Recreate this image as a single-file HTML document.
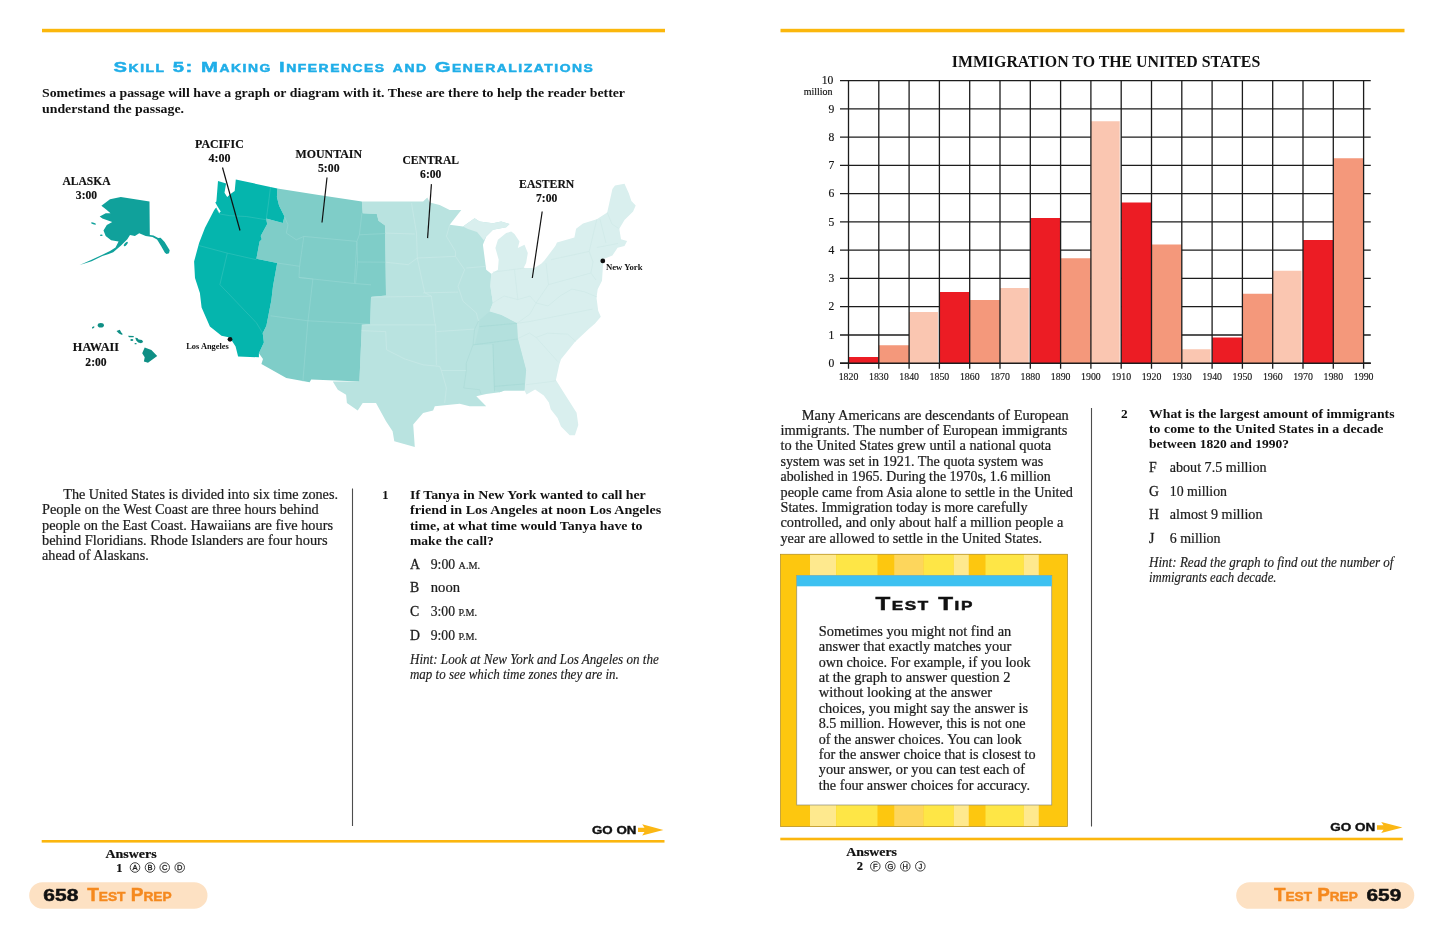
<!DOCTYPE html>
<html lang="en">
<head>
<meta charset="utf-8">
<title>Test Prep 658-659</title>
<style>
html,body{margin:0;padding:0;background:#fff;}
body{width:1445px;height:925px;overflow:hidden;}
svg{display:block;will-change:transform;}
text{font-kerning:normal;}
</style>
</head>
<body>
<svg width="1445" height="925" viewBox="0 0 1445 925">
<rect width="1445" height="925" fill="#ffffff"/>
<rect x="42.00" y="28.80" width="623.00" height="3.50" fill="#fbb70c"/>
<rect x="780.50" y="28.80" width="624.00" height="3.50" fill="#fbb70c"/>
<rect x="41.70" y="840.00" width="622.80" height="2.60" fill="#fbb60e"/>
<rect x="780.30" y="837.70" width="622.50" height="2.60" fill="#fbb60e"/>
<line x1="352.50" y1="488.50" x2="352.50" y2="826.00" stroke="#4d4d4d" stroke-width="1.1"/>
<line x1="1091.50" y1="408.00" x2="1091.50" y2="826.50" stroke="#4d4d4d" stroke-width="1.1"/>
<text x="592.00" y="833.70" font-family='"Liberation Sans", sans-serif' font-size="10.1" font-weight="bold" font-style="normal" fill="#111" text-anchor="start" textLength="44.40" lengthAdjust="spacingAndGlyphs" xml:space="preserve" stroke="#111" stroke-width="0.35">GO ON</text>
<polygon points="638.0,827.7 644.5,827.7 642.2,824.3 663.4,829.9 642.2,835.5 644.5,832.1 638.0,832.1" fill="#fbb714"/>
<text x="1330.30" y="831.30" font-family='"Liberation Sans", sans-serif' font-size="10.1" font-weight="bold" font-style="normal" fill="#111" text-anchor="start" textLength="45.00" lengthAdjust="spacingAndGlyphs" xml:space="preserve" stroke="#111" stroke-width="0.35">GO ON</text>
<polygon points="1377.0,825.3 1383.5,825.3 1381.2,821.9 1402.4,827.5 1381.2,833.1 1383.5,829.7 1377.0,829.7" fill="#fbb714"/>
<text x="105.50" y="857.50" font-family='"Liberation Serif", serif' font-size="12.5" font-weight="bold" font-style="normal" fill="#111" text-anchor="start" textLength="51.20" lengthAdjust="spacingAndGlyphs" stroke="#111" stroke-width="0.2">Answers</text>
<text x="116.30" y="871.70" font-family='"Liberation Serif", serif' font-size="12.5" font-weight="bold" font-style="normal" fill="#111" text-anchor="start" stroke="#111" stroke-width="0.2">1</text>
<circle cx="135.00" cy="867.50" r="4.8" fill="#fff" stroke="#222" stroke-width="0.85"/>
<text x="135.00" y="870.20" font-family='"Liberation Sans", sans-serif' font-size="7.5" font-weight="normal" font-style="normal" fill="#1a1a1a" text-anchor="middle" stroke="#1a1a1a" stroke-width="0.3">A</text>
<circle cx="150.00" cy="867.50" r="4.8" fill="#fff" stroke="#222" stroke-width="0.85"/>
<text x="150.00" y="870.20" font-family='"Liberation Sans", sans-serif' font-size="7.5" font-weight="normal" font-style="normal" fill="#1a1a1a" text-anchor="middle" stroke="#1a1a1a" stroke-width="0.3">B</text>
<circle cx="164.70" cy="867.50" r="4.8" fill="#fff" stroke="#222" stroke-width="0.85"/>
<text x="164.70" y="870.20" font-family='"Liberation Sans", sans-serif' font-size="7.5" font-weight="normal" font-style="normal" fill="#1a1a1a" text-anchor="middle" stroke="#1a1a1a" stroke-width="0.3">C</text>
<circle cx="179.70" cy="867.50" r="4.8" fill="#fff" stroke="#222" stroke-width="0.85"/>
<text x="179.70" y="870.20" font-family='"Liberation Sans", sans-serif' font-size="7.5" font-weight="normal" font-style="normal" fill="#1a1a1a" text-anchor="middle" stroke="#1a1a1a" stroke-width="0.3">D</text>
<text x="846.20" y="856.20" font-family='"Liberation Serif", serif' font-size="12.5" font-weight="bold" font-style="normal" fill="#111" text-anchor="start" textLength="50.80" lengthAdjust="spacingAndGlyphs" stroke="#111" stroke-width="0.2">Answers</text>
<text x="856.70" y="870.00" font-family='"Liberation Serif", serif' font-size="12.5" font-weight="bold" font-style="normal" fill="#111" text-anchor="start" stroke="#111" stroke-width="0.2">2</text>
<circle cx="875.30" cy="866.30" r="4.8" fill="#fff" stroke="#222" stroke-width="0.85"/>
<text x="875.30" y="869.00" font-family='"Liberation Sans", sans-serif' font-size="7.5" font-weight="normal" font-style="normal" fill="#1a1a1a" text-anchor="middle" stroke="#1a1a1a" stroke-width="0.3">F</text>
<circle cx="890.30" cy="866.30" r="4.8" fill="#fff" stroke="#222" stroke-width="0.85"/>
<text x="890.30" y="869.00" font-family='"Liberation Sans", sans-serif' font-size="7.5" font-weight="normal" font-style="normal" fill="#1a1a1a" text-anchor="middle" stroke="#1a1a1a" stroke-width="0.3">G</text>
<circle cx="905.30" cy="866.30" r="4.8" fill="#fff" stroke="#222" stroke-width="0.85"/>
<text x="905.30" y="869.00" font-family='"Liberation Sans", sans-serif' font-size="7.5" font-weight="normal" font-style="normal" fill="#1a1a1a" text-anchor="middle" stroke="#1a1a1a" stroke-width="0.3">H</text>
<circle cx="920.30" cy="866.30" r="4.8" fill="#fff" stroke="#222" stroke-width="0.85"/>
<text x="920.30" y="869.00" font-family='"Liberation Sans", sans-serif' font-size="7.5" font-weight="normal" font-style="normal" fill="#1a1a1a" text-anchor="middle" stroke="#1a1a1a" stroke-width="0.3">J</text>
<rect x="29.2" y="882.2" width="178.3" height="26.5" rx="13.25" ry="13.25" fill="#fde1c3"/>
<rect x="1236.2" y="882.2" width="178.1" height="26.6" rx="13.3" ry="13.3" fill="#fde1c3"/>
<text x="43.30" y="901.30" font-family='"Liberation Sans", sans-serif' font-size="16.8" font-weight="bold" font-style="normal" fill="#111" text-anchor="start" textLength="35.00" lengthAdjust="spacingAndGlyphs" stroke="#111" stroke-width="0.5">658</text>
<text x="87.20" y="901.30" font-family='"Liberation Sans", sans-serif' font-size="18" font-weight="bold" fill="#f5891f" style="font-variant:small-caps;font-variant-caps:small-caps" textLength="84.50" lengthAdjust="spacingAndGlyphs" stroke="#f5891f" stroke-width="0.45">Test Prep</text>
<text x="1274.00" y="901.30" font-family='"Liberation Sans", sans-serif' font-size="18" font-weight="bold" fill="#f5891f" style="font-variant:small-caps;font-variant-caps:small-caps" textLength="83.70" lengthAdjust="spacingAndGlyphs" stroke="#f5891f" stroke-width="0.45">Test Prep</text>
<text x="1366.50" y="901.30" font-family='"Liberation Sans", sans-serif' font-size="16.8" font-weight="bold" font-style="normal" fill="#111" text-anchor="start" textLength="34.70" lengthAdjust="spacingAndGlyphs" stroke="#111" stroke-width="0.5">659</text>
<polygon points="491.2,273.8 497.9,269.7 498.7,259.7 495.4,248.1 497.9,239.8 506.2,233.1 511.2,231.5 514.5,234.0 519.5,241.4 517.8,248.1 524.5,244.8 527.8,253.1 526.1,263.0 523.6,268.0 534.4,268.0 541.5,263.4 544.4,260.5 555.3,246.1 557.0,242.6 574.4,237.4 576.1,228.8 583.0,223.6 596.8,219.3 607.2,212.4 612.4,189.0 615.0,185.6 624.5,183.8 628.8,193.3 631.4,201.1 635.7,205.4 633.1,211.5 624.5,220.1 619.3,228.8 621.0,239.2 627.1,240.9 624.5,246.1 617.6,247.8 612.4,255.6 603.8,259.1 602.9,266.8 602.0,280.7 597.7,289.3 596.5,297.8 598.2,310.8 600.8,316.8 594.8,323.7 588.7,328.9 574.9,341.9 561.0,359.2 559.3,364.4 555.9,379.9 564.5,393.8 576.6,412.8 578.3,424.9 574.9,435.3 569.7,435.3 561.0,426.6 557.6,418.0 550.7,409.3 548.9,402.4 543.8,395.5 535.1,389.4 526.5,394.6 524.5,390.5 526.1,369.8 517.8,338.2 517.0,323.3 501.2,315.0 489.6,311.6 492.9,302.9 490.4,286.3 491.2,273.8" fill="#d9efee"/>
<polygon points="361.9,201.6 423.1,201.6 427.3,197.4 429.8,202.4 439.7,204.9 449.7,209.9 461.3,209.9 449.7,224.8 463.0,226.5 474.6,218.2 479.6,221.5 492.9,223.2 501.2,221.5 509.5,224.0 506.2,227.3 492.9,229.8 486.2,236.4 482.9,244.8 486.2,269.7 491.2,273.8 490.4,286.3 492.9,302.9 489.6,311.6 501.2,315.0 517.0,323.3 517.8,338.2 526.1,369.8 524.5,390.5 504.5,390.5 499.5,392.2 486.2,393.9 476.3,396.3 486.2,406.3 469.6,406.3 459.7,403.8 434.8,406.3 433.1,410.5 423.1,413.0 413.2,424.6 414.8,447.0 394.3,441.2 392.6,431.2 386.0,421.3 376.0,403.0 362.7,403.0 357.7,410.5 346.9,403.0 346.1,394.7 337.8,389.7 332.8,381.4 359.4,381.4 361.9,324.9 370.2,324.1 371.0,297.1 386.0,295.4 385.1,225.6 378.5,220.7 376.8,214.0 362.7,213.2 361.9,201.6" fill="#b9e3e0"/>
<polygon points="474.6,344.9 478.8,328.2 479.6,320.0 489.6,311.6 501.2,315.0 517.0,323.3 517.8,338.2 526.1,369.8 524.5,390.5 504.5,390.5 499.5,392.2 494.0,390.0 492.9,344.5" fill="#b3e0dd"/>
<polygon points="463.0,226.5 474.6,218.2 479.6,221.5 492.9,223.2 501.2,221.5 509.5,224.0 506.2,227.3 492.9,229.8 486.2,236.4 484.0,240.5 477.0,232.0 468.0,229.0" fill="#d9efee"/>
<polygon points="277.4,188.4 318.7,194.9 361.9,201.6 362.7,213.2 376.8,214.0 378.5,220.7 385.1,225.6 386.0,295.4 371.0,297.1 370.2,324.1 361.9,324.9 359.4,381.4 311.2,379.4 309.6,382.2 286.3,378.1 261.4,364.0 263.0,359.0 258.9,353.2 263.9,342.4 262.7,333.2 266.4,325.7 271.4,300.0 273.0,286.3 277.2,263.0 256.4,258.8 259.6,241.4 261.8,239.2 260.7,235.9 267.2,224.1 266.1,218.6 282.8,223.0 284.5,216.5 279.1,205.7 276.9,197.0 277.4,188.4" fill="#7fcdc8"/>
<polygon points="218.0,181.1 226.1,183.5 224.5,192.7 227.2,197.0 231.5,193.2 234.7,191.1 235.8,179.5 277.4,188.4 276.9,197.0 279.1,205.7 284.5,216.5 282.8,223.0 266.1,218.6 267.2,224.1 260.7,235.9 261.8,239.2 259.6,241.4 256.4,258.8 277.2,263.0 273.0,286.3 271.4,300.0 266.4,325.7 262.7,333.2 263.9,342.4 258.9,353.2 258.9,357.3 238.1,356.5 235.6,346.5 229.8,337.4 221.5,335.7 209.9,326.6 201.6,307.5 199.9,292.9 195.0,278.0 194.1,261.4 199.1,243.1 204.9,228.1 214.2,210.0 216.2,207.6 219.1,213.2 220.7,211.6 217.4,206.2 215.3,202.4 216.4,201.4" fill="#05b5ad"/>
<polygon points="101.4,205.7 110.0,199.2 120.8,197.0 149.5,201.4 149.8,234.9 153.5,235.5 158.2,237.9 160.6,237.7 164.6,242.0 169.7,250.3 169.0,253.3 166.6,254.0 164.9,252.8 161.2,246.3 158.0,241.0 157.0,239.6 152.5,236.9 145.7,235.9 139.2,233.2 134.9,235.9 130.0,234.9 127.3,239.2 120.8,245.7 113.2,252.2 108.0,254.2 102.4,256.0 91.6,261.2 79.7,265.1 90.5,260.2 102.4,254.7 110.0,251.0 115.5,247.5 118.6,241.4 111.1,240.3 105.7,235.9 103.5,230.5 106.8,225.1 112.2,221.9 102.4,218.6 99.7,216.5 105.7,213.2 110.5,213.2 106.8,210.0" fill="#10a19b"/>
<ellipse cx="93.5" cy="223.5" rx="2.6" ry="0.9" fill="#10a19b" transform="rotate(18 93.5 223.5)"/>
<ellipse cx="101.3" cy="235.2" rx="1.4" ry="0.8" fill="#10a19b"/>
<ellipse cx="125.8" cy="244" rx="2.8" ry="1.2" fill="#10a19b" transform="rotate(-48 125.8 244)"/>
<ellipse cx="93.2" cy="327.4" rx="1.5" ry="0.7" fill="#0f8f85" transform="rotate(-40 93.2 327.4)"/>
<ellipse cx="100.8" cy="325.3" rx="3.1" ry="2.3" fill="#0f8f85"/>
<polygon points="116.5,331.0 119.8,329.8 121.3,332.5 122.9,334.3 121.5,334.8 119.0,333.6" fill="#0f8f85"/>
<polygon points="128.0,335.8 133.8,336.0 133.6,337.2 129.0,337.2" fill="#0f8f85"/>
<ellipse cx="131.8" cy="339.9" rx="1.5" ry="1" fill="#0f8f85"/>
<polygon points="135.2,337.8 137.4,338.0 138.6,339.6 142.0,340.0 143.2,342.0 141.0,343.2 138.2,342.5 136.2,340.6" fill="#0f8f85"/>
<ellipse cx="135.6" cy="343.7" rx="1.1" ry="0.6" fill="#0f8f85"/>
<polygon points="144.7,347.4 151.4,349.9 157.2,356.1 148.0,362.7 143.9,361.5 144.7,357.3 142.2,353.2" fill="#0f8f85"/>
<polyline points="215.7,208.2 219.9,214.0 229.8,215.7 246.4,216.5 266.4,219.8" fill="none" stroke="#3cc4bd" stroke-width="0.55" stroke-linejoin="round"/>
<polyline points="270.5,187.0 268.5,203.0 266.4,218.2" fill="none" stroke="#3cc4bd" stroke-width="0.55" stroke-linejoin="round"/>
<polyline points="199.1,245.6 227.3,253.1 256.4,259.7" fill="none" stroke="#3cc4bd" stroke-width="0.55" stroke-linejoin="round"/>
<polyline points="227.3,253.1 219.9,284.6 256.4,322.8 262.7,333.2" fill="none" stroke="#3cc4bd" stroke-width="0.55" stroke-linejoin="round"/>
<polyline points="284.7,217.3 288.0,224.8 286.3,233.1 296.3,239.8 303.8,236.4" fill="none" stroke="#9bd8d4" stroke-width="0.55" stroke-linejoin="round"/>
<polyline points="303.8,236.4 299.6,266.3" fill="none" stroke="#9bd8d4" stroke-width="0.55" stroke-linejoin="round"/>
<polyline points="277.2,263.0 299.6,266.3" fill="none" stroke="#9bd8d4" stroke-width="0.55" stroke-linejoin="round"/>
<polyline points="303.8,236.4 356.9,241.4 354.4,283.5 299.0,277.5" fill="none" stroke="#9bd8d4" stroke-width="0.55" stroke-linejoin="round"/>
<polyline points="299.6,266.3 299.0,277.5 312.9,279.0 308.0,320.8" fill="none" stroke="#9bd8d4" stroke-width="0.55" stroke-linejoin="round"/>
<polyline points="270.5,315.8 307.9,320.8 370.2,324.1" fill="none" stroke="#9bd8d4" stroke-width="0.55" stroke-linejoin="round"/>
<polyline points="307.9,320.8 302.9,381.4" fill="none" stroke="#9bd8d4" stroke-width="0.55" stroke-linejoin="round"/>
<polyline points="354.4,283.5 371.0,284.8" fill="none" stroke="#9bd8d4" stroke-width="0.55" stroke-linejoin="round"/>
<polyline points="361.9,213.2 359.4,234.8 356.9,241.4" fill="none" stroke="#9bd8d4" stroke-width="0.55" stroke-linejoin="round"/>
<polyline points="359.4,234.8 385.5,233.5" fill="none" stroke="#9bd8d4" stroke-width="0.55" stroke-linejoin="round"/>
<polyline points="357.6,262.0 385.7,262.2" fill="none" stroke="#9bd8d4" stroke-width="0.55" stroke-linejoin="round"/>
<polyline points="356.9,241.4 357.6,262.0 355.6,283.5" fill="none" stroke="#9bd8d4" stroke-width="0.55" stroke-linejoin="round"/>
<polyline points="385.7,233.1 414.8,234.0" fill="none" stroke="#cdebe9" stroke-width="0.55" stroke-linejoin="round"/>
<polyline points="411.5,203.2 416.5,233.1 417.3,258.0" fill="none" stroke="#cdebe9" stroke-width="0.55" stroke-linejoin="round"/>
<polyline points="385.7,262.2 408.2,264.7 417.3,258.0" fill="none" stroke="#cdebe9" stroke-width="0.55" stroke-linejoin="round"/>
<polyline points="417.3,258.0 455.5,256.4" fill="none" stroke="#cdebe9" stroke-width="0.55" stroke-linejoin="round"/>
<polyline points="449.7,224.8 446.4,236.4 455.5,251.4 455.5,256.4" fill="none" stroke="#cdebe9" stroke-width="0.55" stroke-linejoin="round"/>
<polyline points="417.3,258.0 421.5,278.0 424.8,292.9" fill="none" stroke="#cdebe9" stroke-width="0.55" stroke-linejoin="round"/>
<polyline points="423.1,292.9 458.0,292.1" fill="none" stroke="#cdebe9" stroke-width="0.55" stroke-linejoin="round"/>
<polyline points="466.3,268.0 486.2,266.3" fill="none" stroke="#cdebe9" stroke-width="0.55" stroke-linejoin="round"/>
<polyline points="455.5,256.4 464.6,269.7 458.0,286.3 463.0,301.2 476.3,312.9 478.5,321.0" fill="none" stroke="#cdebe9" stroke-width="0.55" stroke-linejoin="round"/>
<polyline points="371.6,297.1 431.4,296.2" fill="none" stroke="#cdebe9" stroke-width="0.55" stroke-linejoin="round"/>
<polyline points="424.8,292.9 431.4,296.2 434.8,322.8 435.6,324.9" fill="none" stroke="#cdebe9" stroke-width="0.55" stroke-linejoin="round"/>
<polyline points="361.7,324.9 435.6,324.9" fill="none" stroke="#cdebe9" stroke-width="0.55" stroke-linejoin="round"/>
<polyline points="435.6,324.9 436.4,364.8" fill="none" stroke="#cdebe9" stroke-width="0.55" stroke-linejoin="round"/>
<polyline points="361.7,330.7 385.7,331.6 386.6,349.8 404.9,359.0 423.1,364.8 439.7,366.4" fill="none" stroke="#cdebe9" stroke-width="0.55" stroke-linejoin="round"/>
<polyline points="441.4,370.6 466.3,370.6" fill="none" stroke="#cdebe9" stroke-width="0.55" stroke-linejoin="round"/>
<polyline points="439.7,366.4 441.4,370.6 446.4,388.0 444.7,403.0" fill="none" stroke="#cdebe9" stroke-width="0.55" stroke-linejoin="round"/>
<polyline points="436.4,331.6 474.6,329.1" fill="none" stroke="#cdebe9" stroke-width="0.55" stroke-linejoin="round"/>
<polyline points="478.5,321.0 474.6,329.1 473.0,344.9 466.3,363.1 466.3,370.6 463.8,388.0 479.6,389.7 481.0,394.0" fill="none" stroke="#a8d9d5" stroke-width="0.55" stroke-linejoin="round"/>
<polyline points="492.9,344.0 494.5,391.4" fill="none" stroke="#9fd5d1" stroke-width="0.55" stroke-linejoin="round"/>
<polyline points="479.6,326.6 517.0,323.3" fill="none" stroke="#a2d7d3" stroke-width="0.55" stroke-linejoin="round"/>
<polyline points="473.0,344.9 517.8,339.0" fill="none" stroke="#a2d7d3" stroke-width="0.55" stroke-linejoin="round"/>
<polyline points="494.5,386.4 524.5,383.9" fill="none" stroke="#a2d7d3" stroke-width="0.55" stroke-linejoin="round"/>
<polyline points="514.5,269.7 517.8,299.6" fill="none" stroke="#cbe8e6" stroke-width="0.55" stroke-linejoin="round"/>
<polyline points="492.9,272.2 524.5,268.0" fill="none" stroke="#cbe8e6" stroke-width="0.55" stroke-linejoin="round"/>
<polyline points="546.0,263.0 548.5,284.6" fill="none" stroke="#cbe8e6" stroke-width="0.55" stroke-linejoin="round"/>
<polyline points="551.0,259.7 589.2,251.4" fill="none" stroke="#cbe8e6" stroke-width="0.55" stroke-linejoin="round"/>
<polyline points="548.5,284.6 590.9,273.0" fill="none" stroke="#cbe8e6" stroke-width="0.55" stroke-linejoin="round"/>
<polyline points="526.1,384.7 552.7,381.4 556.0,380.6" fill="none" stroke="#cbe8e6" stroke-width="0.55" stroke-linejoin="round"/>
<polyline points="536.1,337.4 557.7,361.5" fill="none" stroke="#cbe8e6" stroke-width="0.55" stroke-linejoin="round"/>
<polyline points="536.1,337.4 547.7,333.2 567.6,334.1 575.9,341.5" fill="none" stroke="#cbe8e6" stroke-width="0.55" stroke-linejoin="round"/>
<polyline points="517.8,338.5 529.4,333.0 536.1,337.4" fill="none" stroke="#cbe8e6" stroke-width="0.55" stroke-linejoin="round"/>
<polyline points="517.0,323.3 529.4,321.6 592.6,309.1" fill="none" stroke="#cbe8e6" stroke-width="0.55" stroke-linejoin="round"/>
<polyline points="492.9,302.9 504.0,296.0 517.8,299.6 530.0,296.0 536.0,303.0 548.5,284.6" fill="none" stroke="#cbe8e6" stroke-width="0.55" stroke-linejoin="round"/>
<polyline points="517.0,323.3 530.0,314.0 536.0,303.0" fill="none" stroke="#cbe8e6" stroke-width="0.55" stroke-linejoin="round"/>
<polyline points="536.0,303.0 548.0,306.0 560.0,296.0 572.0,289.0 585.0,292.0 597.0,297.0" fill="none" stroke="#cbe8e6" stroke-width="0.55" stroke-linejoin="round"/>
<polyline points="589.2,251.4 593.0,262.0 590.9,273.0 596.0,280.0" fill="none" stroke="#cbe8e6" stroke-width="0.55" stroke-linejoin="round"/>
<polyline points="589.2,251.4 596.8,219.3" fill="none" stroke="#cbe8e6" stroke-width="0.55" stroke-linejoin="round"/>
<polyline points="596.8,247.5 618.0,243.5" fill="none" stroke="#cbe8e6" stroke-width="0.55" stroke-linejoin="round"/>
<polyline points="600.0,219.0 606.0,243.0" fill="none" stroke="#cbe8e6" stroke-width="0.55" stroke-linejoin="round"/>
<polyline points="607.2,212.4 612.0,224.0 619.3,228.8" fill="none" stroke="#cbe8e6" stroke-width="0.55" stroke-linejoin="round"/>
<line x1="222.50" y1="167.50" x2="240.00" y2="230.50" stroke="#111" stroke-width="1.2"/>
<line x1="327.00" y1="177.50" x2="322.00" y2="222.50" stroke="#111" stroke-width="1.2"/>
<line x1="431.40" y1="184.10" x2="427.60" y2="238.10" stroke="#111" stroke-width="1.2"/>
<line x1="542.20" y1="211.50" x2="532.30" y2="278.00" stroke="#111" stroke-width="1.2"/>
<text x="195.03" y="147.50" font-family='"Liberation Serif", serif' font-size="12" font-weight="bold" font-style="normal" fill="#111" text-anchor="start" textLength="48.75" lengthAdjust="spacingAndGlyphs" stroke="#111" stroke-width="0.15">PACIFIC</text>
<text x="208.40" y="161.75" font-family='"Liberation Serif", serif' font-size="12" font-weight="bold" font-style="normal" fill="#111" text-anchor="start" textLength="22.00" lengthAdjust="spacingAndGlyphs" stroke="#111" stroke-width="0.15">4:00</text>
<text x="295.50" y="158.00" font-family='"Liberation Serif", serif' font-size="12" font-weight="bold" font-style="normal" fill="#111" text-anchor="start" textLength="66.50" lengthAdjust="spacingAndGlyphs" stroke="#111" stroke-width="0.15">MOUNTAIN</text>
<text x="318.00" y="172.00" font-family='"Liberation Serif", serif' font-size="12" font-weight="bold" font-style="normal" fill="#111" text-anchor="start" textLength="21.50" lengthAdjust="spacingAndGlyphs" stroke="#111" stroke-width="0.15">5:00</text>
<text x="402.50" y="164.00" font-family='"Liberation Serif", serif' font-size="12" font-weight="bold" font-style="normal" fill="#111" text-anchor="start" textLength="56.50" lengthAdjust="spacingAndGlyphs" stroke="#111" stroke-width="0.15">CENTRAL</text>
<text x="420.10" y="177.50" font-family='"Liberation Serif", serif' font-size="12" font-weight="bold" font-style="normal" fill="#111" text-anchor="start" textLength="21.30" lengthAdjust="spacingAndGlyphs" stroke="#111" stroke-width="0.15">6:00</text>
<text x="519.10" y="188.30" font-family='"Liberation Serif", serif' font-size="12" font-weight="bold" font-style="normal" fill="#111" text-anchor="start" textLength="55.20" lengthAdjust="spacingAndGlyphs" stroke="#111" stroke-width="0.15">EASTERN</text>
<text x="536.05" y="202.00" font-family='"Liberation Serif", serif' font-size="12" font-weight="bold" font-style="normal" fill="#111" text-anchor="start" textLength="21.30" lengthAdjust="spacingAndGlyphs" stroke="#111" stroke-width="0.15">7:00</text>
<text x="62.50" y="185.00" font-family='"Liberation Serif", serif' font-size="12" font-weight="bold" font-style="normal" fill="#111" text-anchor="start" textLength="48.00" lengthAdjust="spacingAndGlyphs" stroke="#111" stroke-width="0.15">ALASKA</text>
<text x="75.85" y="199.25" font-family='"Liberation Serif", serif' font-size="12" font-weight="bold" font-style="normal" fill="#111" text-anchor="start" textLength="21.30" lengthAdjust="spacingAndGlyphs" stroke="#111" stroke-width="0.15">3:00</text>
<text x="72.88" y="351.25" font-family='"Liberation Serif", serif' font-size="12" font-weight="bold" font-style="normal" fill="#111" text-anchor="start" textLength="46.25" lengthAdjust="spacingAndGlyphs" stroke="#111" stroke-width="0.15">HAWAII</text>
<text x="85.35" y="365.50" font-family='"Liberation Serif", serif' font-size="12" font-weight="bold" font-style="normal" fill="#111" text-anchor="start" textLength="21.30" lengthAdjust="spacingAndGlyphs" stroke="#111" stroke-width="0.15">2:00</text>
<circle cx="230" cy="339.3" r="2.4" fill="#111"/>
<text x="186.25" y="348.75" font-family='"Liberation Serif", serif' font-size="8.8" font-weight="bold" font-style="normal" fill="#111" text-anchor="start" textLength="42.50" lengthAdjust="spacingAndGlyphs">Los Angeles</text>
<circle cx="602.8" cy="260.9" r="2.4" fill="#111"/>
<text x="606.00" y="269.50" font-family='"Liberation Serif", serif' font-size="8.8" font-weight="bold" font-style="normal" fill="#111" text-anchor="start" textLength="36.50" lengthAdjust="spacingAndGlyphs">New York</text>
<text x="951.75" y="67.00" font-family='"Liberation Serif", serif' font-size="16.3" font-weight="bold" font-style="normal" fill="#111" text-anchor="start" textLength="308.50" lengthAdjust="spacingAndGlyphs">IMMIGRATION TO THE UNITED STATES</text>
<line x1="840.00" y1="363.25" x2="1370.75" y2="363.25" stroke="#1c1c1c" stroke-width="1.3"/>
<line x1="840.00" y1="334.98" x2="1370.75" y2="334.98" stroke="#1c1c1c" stroke-width="1.3"/>
<line x1="840.00" y1="306.71" x2="1370.75" y2="306.71" stroke="#1c1c1c" stroke-width="1.3"/>
<line x1="840.00" y1="278.44" x2="1370.75" y2="278.44" stroke="#1c1c1c" stroke-width="1.3"/>
<line x1="840.00" y1="250.17" x2="1370.75" y2="250.17" stroke="#1c1c1c" stroke-width="1.3"/>
<line x1="840.00" y1="221.90" x2="1370.75" y2="221.90" stroke="#1c1c1c" stroke-width="1.3"/>
<line x1="840.00" y1="193.63" x2="1370.75" y2="193.63" stroke="#1c1c1c" stroke-width="1.3"/>
<line x1="840.00" y1="165.36" x2="1370.75" y2="165.36" stroke="#1c1c1c" stroke-width="1.3"/>
<line x1="840.00" y1="137.09" x2="1370.75" y2="137.09" stroke="#1c1c1c" stroke-width="1.3"/>
<line x1="840.00" y1="108.82" x2="1370.75" y2="108.82" stroke="#1c1c1c" stroke-width="1.3"/>
<line x1="840.00" y1="80.55" x2="1370.75" y2="80.55" stroke="#1c1c1c" stroke-width="1.3"/>
<rect x="848.50" y="357.00" width="30.30" height="6.25" fill="#ec1c24"/>
<rect x="878.80" y="345.25" width="30.30" height="18.00" fill="#f4987b"/>
<rect x="909.10" y="311.60" width="30.30" height="51.65" fill="#ffffff"/>
<rect x="909.10" y="312.00" width="28.80" height="51.25" fill="#fac6b1"/>
<rect x="939.40" y="292.00" width="30.30" height="71.25" fill="#ec1c24"/>
<rect x="969.70" y="300.00" width="30.30" height="63.25" fill="#f4987b"/>
<rect x="1000.00" y="287.60" width="30.30" height="75.65" fill="#ffffff"/>
<rect x="1000.00" y="288.00" width="28.80" height="75.25" fill="#fac6b1"/>
<rect x="1030.30" y="218.00" width="30.30" height="145.25" fill="#ec1c24"/>
<rect x="1060.60" y="258.25" width="30.30" height="105.00" fill="#f4987b"/>
<rect x="1090.90" y="120.85" width="30.30" height="242.40" fill="#ffffff"/>
<rect x="1090.90" y="121.25" width="28.80" height="242.00" fill="#fac6b1"/>
<rect x="1121.20" y="202.50" width="30.30" height="160.75" fill="#ec1c24"/>
<rect x="1151.50" y="244.50" width="30.30" height="118.75" fill="#f4987b"/>
<rect x="1181.80" y="348.85" width="30.30" height="14.40" fill="#ffffff"/>
<rect x="1181.80" y="349.25" width="28.80" height="14.00" fill="#fac6b1"/>
<rect x="1212.10" y="337.50" width="30.30" height="25.75" fill="#ec1c24"/>
<rect x="1242.40" y="293.75" width="30.30" height="69.50" fill="#f4987b"/>
<rect x="1272.70" y="270.35" width="30.30" height="92.90" fill="#ffffff"/>
<rect x="1272.70" y="270.75" width="28.80" height="92.50" fill="#fac6b1"/>
<rect x="1303.00" y="240.00" width="30.30" height="123.25" fill="#ec1c24"/>
<rect x="1333.30" y="158.25" width="30.30" height="205.00" fill="#f4987b"/>
<line x1="848.50" y1="80.55" x2="848.50" y2="368.75" stroke="#1c1c1c" stroke-width="1.3"/>
<line x1="878.80" y1="80.55" x2="878.80" y2="368.75" stroke="#1c1c1c" stroke-width="1.3"/>
<line x1="909.10" y1="80.55" x2="909.10" y2="368.75" stroke="#1c1c1c" stroke-width="1.3"/>
<line x1="939.40" y1="80.55" x2="939.40" y2="368.75" stroke="#1c1c1c" stroke-width="1.3"/>
<line x1="969.70" y1="80.55" x2="969.70" y2="368.75" stroke="#1c1c1c" stroke-width="1.3"/>
<line x1="1000.00" y1="80.55" x2="1000.00" y2="368.75" stroke="#1c1c1c" stroke-width="1.3"/>
<line x1="1030.30" y1="80.55" x2="1030.30" y2="368.75" stroke="#1c1c1c" stroke-width="1.3"/>
<line x1="1060.60" y1="80.55" x2="1060.60" y2="368.75" stroke="#1c1c1c" stroke-width="1.3"/>
<line x1="1090.90" y1="80.55" x2="1090.90" y2="368.75" stroke="#1c1c1c" stroke-width="1.3"/>
<line x1="1121.20" y1="80.55" x2="1121.20" y2="368.75" stroke="#1c1c1c" stroke-width="1.3"/>
<line x1="1151.50" y1="80.55" x2="1151.50" y2="368.75" stroke="#1c1c1c" stroke-width="1.3"/>
<line x1="1181.80" y1="80.55" x2="1181.80" y2="368.75" stroke="#1c1c1c" stroke-width="1.3"/>
<line x1="1212.10" y1="80.55" x2="1212.10" y2="368.75" stroke="#1c1c1c" stroke-width="1.3"/>
<line x1="1242.40" y1="80.55" x2="1242.40" y2="368.75" stroke="#1c1c1c" stroke-width="1.3"/>
<line x1="1272.70" y1="80.55" x2="1272.70" y2="368.75" stroke="#1c1c1c" stroke-width="1.3"/>
<line x1="1303.00" y1="80.55" x2="1303.00" y2="368.75" stroke="#1c1c1c" stroke-width="1.3"/>
<line x1="1333.30" y1="80.55" x2="1333.30" y2="368.75" stroke="#1c1c1c" stroke-width="1.3"/>
<line x1="1363.60" y1="80.55" x2="1363.60" y2="368.75" stroke="#1c1c1c" stroke-width="1.3"/>
<line x1="840.00" y1="363.25" x2="1370.75" y2="363.25" stroke="#1c1c1c" stroke-width="1.3"/>
<text x="834.30" y="366.95" font-family='"Liberation Serif", serif' font-size="11.6" font-weight="normal" font-style="normal" fill="#111" text-anchor="end" stroke="#111" stroke-width="0.15">0</text>
<text x="834.30" y="338.68" font-family='"Liberation Serif", serif' font-size="11.6" font-weight="normal" font-style="normal" fill="#111" text-anchor="end" stroke="#111" stroke-width="0.15">1</text>
<text x="834.30" y="310.41" font-family='"Liberation Serif", serif' font-size="11.6" font-weight="normal" font-style="normal" fill="#111" text-anchor="end" stroke="#111" stroke-width="0.15">2</text>
<text x="834.30" y="282.14" font-family='"Liberation Serif", serif' font-size="11.6" font-weight="normal" font-style="normal" fill="#111" text-anchor="end" stroke="#111" stroke-width="0.15">3</text>
<text x="834.30" y="253.87" font-family='"Liberation Serif", serif' font-size="11.6" font-weight="normal" font-style="normal" fill="#111" text-anchor="end" stroke="#111" stroke-width="0.15">4</text>
<text x="834.30" y="225.60" font-family='"Liberation Serif", serif' font-size="11.6" font-weight="normal" font-style="normal" fill="#111" text-anchor="end" stroke="#111" stroke-width="0.15">5</text>
<text x="834.30" y="197.33" font-family='"Liberation Serif", serif' font-size="11.6" font-weight="normal" font-style="normal" fill="#111" text-anchor="end" stroke="#111" stroke-width="0.15">6</text>
<text x="834.30" y="169.06" font-family='"Liberation Serif", serif' font-size="11.6" font-weight="normal" font-style="normal" fill="#111" text-anchor="end" stroke="#111" stroke-width="0.15">7</text>
<text x="834.30" y="140.79" font-family='"Liberation Serif", serif' font-size="11.6" font-weight="normal" font-style="normal" fill="#111" text-anchor="end" stroke="#111" stroke-width="0.15">8</text>
<text x="834.30" y="112.52" font-family='"Liberation Serif", serif' font-size="11.6" font-weight="normal" font-style="normal" fill="#111" text-anchor="end" stroke="#111" stroke-width="0.15">9</text>
<text x="833.40" y="83.90" font-family='"Liberation Serif", serif' font-size="11.6" font-weight="normal" font-style="normal" fill="#111" text-anchor="end" stroke="#111" stroke-width="0.15">10</text>
<text x="803.75" y="95.00" font-family='"Liberation Serif", serif' font-size="9.6" font-weight="normal" font-style="normal" fill="#111" text-anchor="start" textLength="28.75" lengthAdjust="spacingAndGlyphs" stroke="#111" stroke-width="0.15">million</text>
<text x="838.70" y="380.00" font-family='"Liberation Serif", serif' font-size="10.2" font-weight="normal" font-style="normal" fill="#111" text-anchor="start" textLength="19.70" lengthAdjust="spacingAndGlyphs" stroke="#111" stroke-width="0.12">1820</text>
<text x="869.00" y="380.00" font-family='"Liberation Serif", serif' font-size="10.2" font-weight="normal" font-style="normal" fill="#111" text-anchor="start" textLength="19.70" lengthAdjust="spacingAndGlyphs" stroke="#111" stroke-width="0.12">1830</text>
<text x="899.30" y="380.00" font-family='"Liberation Serif", serif' font-size="10.2" font-weight="normal" font-style="normal" fill="#111" text-anchor="start" textLength="19.70" lengthAdjust="spacingAndGlyphs" stroke="#111" stroke-width="0.12">1840</text>
<text x="929.60" y="380.00" font-family='"Liberation Serif", serif' font-size="10.2" font-weight="normal" font-style="normal" fill="#111" text-anchor="start" textLength="19.70" lengthAdjust="spacingAndGlyphs" stroke="#111" stroke-width="0.12">1850</text>
<text x="959.90" y="380.00" font-family='"Liberation Serif", serif' font-size="10.2" font-weight="normal" font-style="normal" fill="#111" text-anchor="start" textLength="19.70" lengthAdjust="spacingAndGlyphs" stroke="#111" stroke-width="0.12">1860</text>
<text x="990.20" y="380.00" font-family='"Liberation Serif", serif' font-size="10.2" font-weight="normal" font-style="normal" fill="#111" text-anchor="start" textLength="19.70" lengthAdjust="spacingAndGlyphs" stroke="#111" stroke-width="0.12">1870</text>
<text x="1020.50" y="380.00" font-family='"Liberation Serif", serif' font-size="10.2" font-weight="normal" font-style="normal" fill="#111" text-anchor="start" textLength="19.70" lengthAdjust="spacingAndGlyphs" stroke="#111" stroke-width="0.12">1880</text>
<text x="1050.80" y="380.00" font-family='"Liberation Serif", serif' font-size="10.2" font-weight="normal" font-style="normal" fill="#111" text-anchor="start" textLength="19.70" lengthAdjust="spacingAndGlyphs" stroke="#111" stroke-width="0.12">1890</text>
<text x="1081.10" y="380.00" font-family='"Liberation Serif", serif' font-size="10.2" font-weight="normal" font-style="normal" fill="#111" text-anchor="start" textLength="19.70" lengthAdjust="spacingAndGlyphs" stroke="#111" stroke-width="0.12">1900</text>
<text x="1111.40" y="380.00" font-family='"Liberation Serif", serif' font-size="10.2" font-weight="normal" font-style="normal" fill="#111" text-anchor="start" textLength="19.70" lengthAdjust="spacingAndGlyphs" stroke="#111" stroke-width="0.12">1910</text>
<text x="1141.70" y="380.00" font-family='"Liberation Serif", serif' font-size="10.2" font-weight="normal" font-style="normal" fill="#111" text-anchor="start" textLength="19.70" lengthAdjust="spacingAndGlyphs" stroke="#111" stroke-width="0.12">1920</text>
<text x="1172.00" y="380.00" font-family='"Liberation Serif", serif' font-size="10.2" font-weight="normal" font-style="normal" fill="#111" text-anchor="start" textLength="19.70" lengthAdjust="spacingAndGlyphs" stroke="#111" stroke-width="0.12">1930</text>
<text x="1202.30" y="380.00" font-family='"Liberation Serif", serif' font-size="10.2" font-weight="normal" font-style="normal" fill="#111" text-anchor="start" textLength="19.70" lengthAdjust="spacingAndGlyphs" stroke="#111" stroke-width="0.12">1940</text>
<text x="1232.60" y="380.00" font-family='"Liberation Serif", serif' font-size="10.2" font-weight="normal" font-style="normal" fill="#111" text-anchor="start" textLength="19.70" lengthAdjust="spacingAndGlyphs" stroke="#111" stroke-width="0.12">1950</text>
<text x="1262.90" y="380.00" font-family='"Liberation Serif", serif' font-size="10.2" font-weight="normal" font-style="normal" fill="#111" text-anchor="start" textLength="19.70" lengthAdjust="spacingAndGlyphs" stroke="#111" stroke-width="0.12">1960</text>
<text x="1293.20" y="380.00" font-family='"Liberation Serif", serif' font-size="10.2" font-weight="normal" font-style="normal" fill="#111" text-anchor="start" textLength="19.70" lengthAdjust="spacingAndGlyphs" stroke="#111" stroke-width="0.12">1970</text>
<text x="1323.50" y="380.00" font-family='"Liberation Serif", serif' font-size="10.2" font-weight="normal" font-style="normal" fill="#111" text-anchor="start" textLength="19.70" lengthAdjust="spacingAndGlyphs" stroke="#111" stroke-width="0.12">1980</text>
<text x="1353.80" y="380.00" font-family='"Liberation Serif", serif' font-size="10.2" font-weight="normal" font-style="normal" fill="#111" text-anchor="start" textLength="19.70" lengthAdjust="spacingAndGlyphs" stroke="#111" stroke-width="0.12">1990</text>
<text x="113.50" y="72.20" font-family='"Liberation Sans", sans-serif' font-size="14.6" font-weight="bold" fill="#20aee8" style="font-variant:small-caps;font-variant-caps:small-caps" textLength="480.90" lengthAdjust="spacingAndGlyphs" letter-spacing="1.1" stroke="#20aee8" stroke-width="0.45">Skill 5: Making Inferences and Generalizations</text>
<text x="42.00" y="96.50" font-family='"Liberation Serif", serif' font-size="13.3" font-weight="bold" font-style="normal" fill="#111" text-anchor="start" textLength="583.00" lengthAdjust="spacingAndGlyphs">Sometimes a passage will have a graph or diagram with it. These are there to help the reader better</text>
<text x="42.00" y="112.75" font-family='"Liberation Serif", serif' font-size="13.3" font-weight="bold" font-style="normal" fill="#111" text-anchor="start" textLength="142.00" lengthAdjust="spacingAndGlyphs">understand the passage.</text>
<text x="63.25" y="498.75" font-family='"Liberation Serif", serif' font-size="13.75" font-weight="normal" font-style="normal" fill="#1c1c1c" text-anchor="start" textLength="274.75" lengthAdjust="spacingAndGlyphs" stroke="#1c1c1c" stroke-width="0.22">The United States is divided into six time zones.</text>
<text x="42.00" y="514.00" font-family='"Liberation Serif", serif' font-size="13.75" font-weight="normal" font-style="normal" fill="#1c1c1c" text-anchor="start" textLength="276.75" lengthAdjust="spacingAndGlyphs" stroke="#1c1c1c" stroke-width="0.22">People on the West Coast are three hours behind</text>
<text x="42.00" y="529.50" font-family='"Liberation Serif", serif' font-size="13.75" font-weight="normal" font-style="normal" fill="#1c1c1c" text-anchor="start" textLength="291.00" lengthAdjust="spacingAndGlyphs" stroke="#1c1c1c" stroke-width="0.22">people on the East Coast. Hawaiians are five hours</text>
<text x="42.00" y="545.00" font-family='"Liberation Serif", serif' font-size="13.75" font-weight="normal" font-style="normal" fill="#1c1c1c" text-anchor="start" textLength="285.50" lengthAdjust="spacingAndGlyphs" stroke="#1c1c1c" stroke-width="0.22">behind Floridians. Rhode Islanders are four hours</text>
<text x="42.00" y="560.00" font-family='"Liberation Serif", serif' font-size="13.75" font-weight="normal" font-style="normal" fill="#1c1c1c" text-anchor="start" textLength="106.75" lengthAdjust="spacingAndGlyphs" stroke="#1c1c1c" stroke-width="0.22">ahead of Alaskans.</text>
<text x="382.00" y="498.75" font-family='"Liberation Serif", serif' font-size="13.3" font-weight="bold" font-style="normal" fill="#111" text-anchor="start">1</text>
<text x="410.00" y="498.75" font-family='"Liberation Serif", serif' font-size="13.3" font-weight="bold" font-style="normal" fill="#111" text-anchor="start" textLength="235.75" lengthAdjust="spacingAndGlyphs">If Tanya in New York wanted to call her</text>
<text x="410.00" y="514.00" font-family='"Liberation Serif", serif' font-size="13.3" font-weight="bold" font-style="normal" fill="#111" text-anchor="start" textLength="251.25" lengthAdjust="spacingAndGlyphs">friend in Los Angeles at noon Los Angeles</text>
<text x="410.00" y="529.50" font-family='"Liberation Serif", serif' font-size="13.3" font-weight="bold" font-style="normal" fill="#111" text-anchor="start" textLength="232.50" lengthAdjust="spacingAndGlyphs">time, at what time would Tanya have to</text>
<text x="410.00" y="545.00" font-family='"Liberation Serif", serif' font-size="13.3" font-weight="bold" font-style="normal" fill="#111" text-anchor="start" textLength="83.75" lengthAdjust="spacingAndGlyphs">make the call?</text>
<text x="410.00" y="568.75" font-family='"Liberation Serif", serif' font-size="13.75" font-weight="normal" font-style="normal" fill="#1c1c1c" text-anchor="start" stroke="#1c1c1c" stroke-width="0.3">A</text>
<text x="430.75" y="568.75" font-family='"Liberation Serif", serif' fill="#1c1c1c" xml:space="preserve" textLength="49.25" lengthAdjust="spacingAndGlyphs" stroke="#1c1c1c" stroke-width="0.22"><tspan font-size="13.75">9:00 </tspan><tspan font-size="10.18">A.M.</tspan></text>
<text x="410.00" y="592.00" font-family='"Liberation Serif", serif' font-size="13.75" font-weight="normal" font-style="normal" fill="#1c1c1c" text-anchor="start" stroke="#1c1c1c" stroke-width="0.3">B</text>
<text x="430.75" y="592.00" font-family='"Liberation Serif", serif' font-size="13.75" font-weight="normal" font-style="normal" fill="#1c1c1c" text-anchor="start" textLength="29.25" lengthAdjust="spacingAndGlyphs" stroke="#1c1c1c" stroke-width="0.22">noon</text>
<text x="410.00" y="615.75" font-family='"Liberation Serif", serif' font-size="13.75" font-weight="normal" font-style="normal" fill="#1c1c1c" text-anchor="start" stroke="#1c1c1c" stroke-width="0.3">C</text>
<text x="430.75" y="615.75" font-family='"Liberation Serif", serif' fill="#1c1c1c" xml:space="preserve" textLength="46.25" lengthAdjust="spacingAndGlyphs" stroke="#1c1c1c" stroke-width="0.22"><tspan font-size="13.75">3:00 </tspan><tspan font-size="10.18">P.M.</tspan></text>
<text x="410.00" y="639.50" font-family='"Liberation Serif", serif' font-size="13.75" font-weight="normal" font-style="normal" fill="#1c1c1c" text-anchor="start" stroke="#1c1c1c" stroke-width="0.3">D</text>
<text x="430.75" y="639.50" font-family='"Liberation Serif", serif' fill="#1c1c1c" xml:space="preserve" textLength="46.25" lengthAdjust="spacingAndGlyphs" stroke="#1c1c1c" stroke-width="0.22"><tspan font-size="13.75">9:00 </tspan><tspan font-size="10.18">P.M.</tspan></text>
<text x="410.00" y="663.75" font-family='"Liberation Serif", serif' font-size="13.75" font-weight="normal" font-style="italic" fill="#1c1c1c" text-anchor="start" textLength="248.75" lengthAdjust="spacingAndGlyphs" stroke="#1c1c1c" stroke-width="0.15">Hint: Look at New York and Los Angeles on the</text>
<text x="410.00" y="678.75" font-family='"Liberation Serif", serif' font-size="13.75" font-weight="normal" font-style="italic" fill="#1c1c1c" text-anchor="start" textLength="208.75" lengthAdjust="spacingAndGlyphs" stroke="#1c1c1c" stroke-width="0.15">map to see which time zones they are in.</text>
<text x="801.75" y="419.50" font-family='"Liberation Serif", serif' font-size="13.75" font-weight="normal" font-style="normal" fill="#1c1c1c" text-anchor="start" textLength="267.00" lengthAdjust="spacingAndGlyphs" stroke="#1c1c1c" stroke-width="0.22">Many Americans are descendants of European</text>
<text x="780.50" y="435.00" font-family='"Liberation Serif", serif' font-size="13.75" font-weight="normal" font-style="normal" fill="#1c1c1c" text-anchor="start" textLength="287.00" lengthAdjust="spacingAndGlyphs" stroke="#1c1c1c" stroke-width="0.22">immigrants. The number of European immigrants</text>
<text x="780.50" y="450.25" font-family='"Liberation Serif", serif' font-size="13.75" font-weight="normal" font-style="normal" fill="#1c1c1c" text-anchor="start" textLength="270.75" lengthAdjust="spacingAndGlyphs" stroke="#1c1c1c" stroke-width="0.22">to the United States grew until a national quota</text>
<text x="780.50" y="465.75" font-family='"Liberation Serif", serif' font-size="13.75" font-weight="normal" font-style="normal" fill="#1c1c1c" text-anchor="start" textLength="262.75" lengthAdjust="spacingAndGlyphs" stroke="#1c1c1c" stroke-width="0.22">system was set in 1921. The quota system was</text>
<text x="780.50" y="481.00" font-family='"Liberation Serif", serif' font-size="13.75" font-weight="normal" font-style="normal" fill="#1c1c1c" text-anchor="start" textLength="270.25" lengthAdjust="spacingAndGlyphs" stroke="#1c1c1c" stroke-width="0.22">abolished in 1965. During the 1970s, 1.6 million</text>
<text x="780.50" y="496.50" font-family='"Liberation Serif", serif' font-size="13.75" font-weight="normal" font-style="normal" fill="#1c1c1c" text-anchor="start" textLength="292.50" lengthAdjust="spacingAndGlyphs" stroke="#1c1c1c" stroke-width="0.22">people came from Asia alone to settle in the United</text>
<text x="780.50" y="511.75" font-family='"Liberation Serif", serif' font-size="13.75" font-weight="normal" font-style="normal" fill="#1c1c1c" text-anchor="start" textLength="247.00" lengthAdjust="spacingAndGlyphs" stroke="#1c1c1c" stroke-width="0.22">States. Immigration today is more carefully</text>
<text x="780.50" y="527.25" font-family='"Liberation Serif", serif' font-size="13.75" font-weight="normal" font-style="normal" fill="#1c1c1c" text-anchor="start" textLength="282.75" lengthAdjust="spacingAndGlyphs" stroke="#1c1c1c" stroke-width="0.22">controlled, and only about half a million people a</text>
<text x="780.50" y="542.50" font-family='"Liberation Serif", serif' font-size="13.75" font-weight="normal" font-style="normal" fill="#1c1c1c" text-anchor="start" textLength="261.50" lengthAdjust="spacingAndGlyphs" stroke="#1c1c1c" stroke-width="0.22">year are allowed to settle in the United States.</text>
<text x="1121.00" y="417.50" font-family='"Liberation Serif", serif' font-size="13.3" font-weight="bold" font-style="normal" fill="#111" text-anchor="start">2</text>
<text x="1149.00" y="417.50" font-family='"Liberation Serif", serif' font-size="13.3" font-weight="bold" font-style="normal" fill="#111" text-anchor="start" textLength="245.50" lengthAdjust="spacingAndGlyphs">What is the largest amount of immigrants</text>
<text x="1149.00" y="433.00" font-family='"Liberation Serif", serif' font-size="13.3" font-weight="bold" font-style="normal" fill="#111" text-anchor="start" textLength="234.50" lengthAdjust="spacingAndGlyphs">to come to the United States in a decade</text>
<text x="1149.00" y="448.25" font-family='"Liberation Serif", serif' font-size="13.3" font-weight="bold" font-style="normal" fill="#111" text-anchor="start" textLength="140.00" lengthAdjust="spacingAndGlyphs">between 1820 and 1990?</text>
<text x="1149.00" y="472.00" font-family='"Liberation Serif", serif' font-size="13.75" font-weight="normal" font-style="normal" fill="#1c1c1c" text-anchor="start" stroke="#1c1c1c" stroke-width="0.3">F</text>
<text x="1169.75" y="472.00" font-family='"Liberation Serif", serif' font-size="13.75" font-weight="normal" font-style="normal" fill="#1c1c1c" text-anchor="start" textLength="96.75" lengthAdjust="spacingAndGlyphs" stroke="#1c1c1c" stroke-width="0.22">about 7.5 million</text>
<text x="1149.00" y="495.75" font-family='"Liberation Serif", serif' font-size="13.75" font-weight="normal" font-style="normal" fill="#1c1c1c" text-anchor="start" stroke="#1c1c1c" stroke-width="0.3">G</text>
<text x="1169.75" y="495.75" font-family='"Liberation Serif", serif' font-size="13.75" font-weight="normal" font-style="normal" fill="#1c1c1c" text-anchor="start" textLength="57.25" lengthAdjust="spacingAndGlyphs" stroke="#1c1c1c" stroke-width="0.22">10 million</text>
<text x="1149.00" y="519.25" font-family='"Liberation Serif", serif' font-size="13.75" font-weight="normal" font-style="normal" fill="#1c1c1c" text-anchor="start" stroke="#1c1c1c" stroke-width="0.3">H</text>
<text x="1169.75" y="519.25" font-family='"Liberation Serif", serif' font-size="13.75" font-weight="normal" font-style="normal" fill="#1c1c1c" text-anchor="start" textLength="92.75" lengthAdjust="spacingAndGlyphs" stroke="#1c1c1c" stroke-width="0.22">almost 9 million</text>
<text x="1149.00" y="543.00" font-family='"Liberation Serif", serif' font-size="13.75" font-weight="normal" font-style="normal" fill="#1c1c1c" text-anchor="start" stroke="#1c1c1c" stroke-width="0.3">J</text>
<text x="1169.75" y="543.00" font-family='"Liberation Serif", serif' font-size="13.75" font-weight="normal" font-style="normal" fill="#1c1c1c" text-anchor="start" textLength="50.75" lengthAdjust="spacingAndGlyphs" stroke="#1c1c1c" stroke-width="0.22">6 million</text>
<text x="1149.00" y="567.00" font-family='"Liberation Serif", serif' font-size="13.75" font-weight="normal" font-style="italic" fill="#1c1c1c" text-anchor="start" textLength="244.50" lengthAdjust="spacingAndGlyphs" stroke="#1c1c1c" stroke-width="0.15">Hint: Read the graph to find out the number of</text>
<text x="1149.00" y="582.00" font-family='"Liberation Serif", serif' font-size="13.75" font-weight="normal" font-style="italic" fill="#1c1c1c" text-anchor="start" textLength="127.50" lengthAdjust="spacingAndGlyphs" stroke="#1c1c1c" stroke-width="0.15">immigrants each decade.</text>
<rect x="780.50" y="554.25" width="287.00" height="272.35" fill="#fdc70f"/>
<rect x="810.00" y="554.25" width="26.25" height="272.35" fill="#fee98e"/>
<rect x="836.25" y="554.25" width="41.25" height="272.35" fill="#fee646"/>
<rect x="894.25" y="554.25" width="29.50" height="272.35" fill="#fdd65c"/>
<rect x="923.75" y="554.25" width="30.00" height="272.35" fill="#fee646"/>
<rect x="953.75" y="554.25" width="15.00" height="272.35" fill="#fee98e"/>
<rect x="985.50" y="554.25" width="38.25" height="272.35" fill="#fee646"/>
<rect x="1023.75" y="554.25" width="15.00" height="272.35" fill="#fee98e"/>
<rect x="780.5" y="554.25" width="287.0" height="272.35" fill="none" stroke="#b08a1e" stroke-width="0.7"/>
<rect x="796.75" y="575.50" width="255.00" height="229.50" fill="#ffffff" stroke="#8c8c7a" stroke-width="0.7"/>
<rect x="796.75" y="575.50" width="255.00" height="10.80" fill="#3dc1f1"/>
<text x="875.50" y="609.60" font-family='"Liberation Sans", sans-serif' font-size="18.4" font-weight="bold" fill="#111" style="font-variant:small-caps;font-variant-caps:small-caps" textLength="98.40" lengthAdjust="spacingAndGlyphs" letter-spacing="1.2" stroke="#111" stroke-width="0.5">Test Tip</text>
<text x="818.75" y="635.75" font-family='"Liberation Serif", serif' font-size="13.75" font-weight="normal" font-style="normal" fill="#1c1c1c" text-anchor="start" textLength="192.50" lengthAdjust="spacingAndGlyphs" stroke="#1c1c1c" stroke-width="0.22">Sometimes you might not find an</text>
<text x="818.75" y="651.25" font-family='"Liberation Serif", serif' font-size="13.75" font-weight="normal" font-style="normal" fill="#1c1c1c" text-anchor="start" textLength="192.50" lengthAdjust="spacingAndGlyphs" stroke="#1c1c1c" stroke-width="0.22">answer that exactly matches your</text>
<text x="818.75" y="666.50" font-family='"Liberation Serif", serif' font-size="13.75" font-weight="normal" font-style="normal" fill="#1c1c1c" text-anchor="start" textLength="211.75" lengthAdjust="spacingAndGlyphs" stroke="#1c1c1c" stroke-width="0.22">own choice. For example, if you look</text>
<text x="818.75" y="682.00" font-family='"Liberation Serif", serif' font-size="13.75" font-weight="normal" font-style="normal" fill="#1c1c1c" text-anchor="start" textLength="191.75" lengthAdjust="spacingAndGlyphs" stroke="#1c1c1c" stroke-width="0.22">at the graph to answer question 2</text>
<text x="818.75" y="697.25" font-family='"Liberation Serif", serif' font-size="13.75" font-weight="normal" font-style="normal" fill="#1c1c1c" text-anchor="start" textLength="173.25" lengthAdjust="spacingAndGlyphs" stroke="#1c1c1c" stroke-width="0.22">without looking at the answer</text>
<text x="818.75" y="712.75" font-family='"Liberation Serif", serif' font-size="13.75" font-weight="normal" font-style="normal" fill="#1c1c1c" text-anchor="start" textLength="209.25" lengthAdjust="spacingAndGlyphs" stroke="#1c1c1c" stroke-width="0.22">choices, you might say the answer is</text>
<text x="818.75" y="728.00" font-family='"Liberation Serif", serif' font-size="13.75" font-weight="normal" font-style="normal" fill="#1c1c1c" text-anchor="start" textLength="206.75" lengthAdjust="spacingAndGlyphs" stroke="#1c1c1c" stroke-width="0.22">8.5 million. However, this is not one</text>
<text x="818.75" y="743.50" font-family='"Liberation Serif", serif' font-size="13.75" font-weight="normal" font-style="normal" fill="#1c1c1c" text-anchor="start" textLength="203.00" lengthAdjust="spacingAndGlyphs" stroke="#1c1c1c" stroke-width="0.22">of the answer choices. You can look</text>
<text x="818.75" y="758.75" font-family='"Liberation Serif", serif' font-size="13.75" font-weight="normal" font-style="normal" fill="#1c1c1c" text-anchor="start" textLength="216.75" lengthAdjust="spacingAndGlyphs" stroke="#1c1c1c" stroke-width="0.22">for the answer choice that is closest to</text>
<text x="818.75" y="774.25" font-family='"Liberation Serif", serif' font-size="13.75" font-weight="normal" font-style="normal" fill="#1c1c1c" text-anchor="start" textLength="206.25" lengthAdjust="spacingAndGlyphs" stroke="#1c1c1c" stroke-width="0.22">your answer, or you can test each of</text>
<text x="818.75" y="789.50" font-family='"Liberation Serif", serif' font-size="13.75" font-weight="normal" font-style="normal" fill="#1c1c1c" text-anchor="start" textLength="211.25" lengthAdjust="spacingAndGlyphs" stroke="#1c1c1c" stroke-width="0.22">the four answer choices for accuracy.</text>
</svg>
</body>
</html>
